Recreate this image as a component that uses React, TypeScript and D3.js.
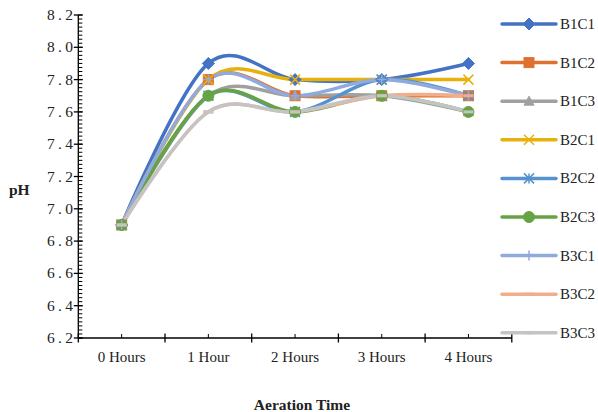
import React from "react";
import * as d3 from "d3";

const categories = ["0 Hours", "1 Hour", "2 Hours", "3 Hours", "4 Hours"];
const seriesNames = ["B1C1", "B1C2", "B1C3", "B2C1", "B2C2", "B2C3", "B3C1", "B3C2", "B3C3"];
const B1C1 = [6.9, 7.9, 7.8, 7.8, 7.9];
const B1C2 = [6.9, 7.8, 7.7, 7.7, 7.7];
const B1C3 = [6.9, 7.7, 7.7, 7.7, 7.6];
const B2C1 = [6.9, 7.8, 7.8, 7.8, 7.8];
const B2C2 = [6.9, 7.7, 7.6, 7.8, 7.7];
const B2C3 = [6.9, 7.7, 7.6, 7.7, 7.6];
const B3C1 = [6.9, 7.8, 7.7, 7.8, 7.7];
const B3C2 = [6.9, 7.6, 7.6, 7.7, 7.7];
const B3C3 = [6.9, 7.6, 7.6, 7.7, 7.6];
const seriesValues = [B1C1, B1C2, B1C3, B2C1, B2C2, B2C3, B3C1, B3C2, B3C3];
const yTicks = [6.2, 6.4, 6.6, 6.8, 7.0, 7.2, 7.4, 7.6, 7.8, 8.0, 8.2];

const colors = ["#4472C4", "#E07030", "#A0A0A0", "#E8B00A", "#5592CF", "#65A343", "#8FAADC", "#F2AD8A", "#C4C4C4"];
const markers = ["diamond", "square", "triangle", "x", "star", "circle", "plus", "dash", "dash"];

const FONT = "'Liberation Serif', 'Times New Roman', serif";

function Marker({ type, x, y, color }: { type: string; x: number; y: number; color: string }) {
  const s = 5;
  switch (type) {
    case "diamond":
      return <path d={`M${x},${y - s - 1}L${x + s + 1},${y}L${x},${y + s + 1}L${x - s - 1},${y}Z`} fill={color} stroke={color} strokeWidth={1} />;
    case "square":
      return <rect x={x - s} y={y - s} width={2 * s} height={2 * s} fill={color} stroke={color} strokeWidth={1} />;
    case "triangle":
      return <path d={`M${x},${y - s}L${x + s},${y + s - 1}L${x - s},${y + s - 1}Z`} fill={color} stroke={color} strokeWidth={1} />;
    case "x":
      return <path d={`M${x - s},${y - s}L${x + s},${y + s}M${x + s},${y - s}L${x - s},${y + s}`} stroke={color} strokeWidth={1.5} fill="none" />;
    case "star":
      return <path d={`M${x - s},${y - s}L${x + s},${y + s}M${x + s},${y - s}L${x - s},${y + s}M${x},${y - s}L${x},${y + s}`} stroke={color} strokeWidth={1.5} fill="none" />;
    case "circle":
      return <circle cx={x} cy={y} r={s + 0.5} fill={color} stroke={color} strokeWidth={1} />;
    case "plus":
      return <path d={`M${x - s},${y}L${x + s},${y}M${x},${y - s}L${x},${y + s}`} stroke={color} strokeWidth={1.5} fill="none" />;
    case "dash":
      return <path d={`M${x - s},${y}L${x + s},${y}`} stroke={color} strokeWidth={3} fill="none" />;
    default:
      return null;
  }
}

export default function App() {
  const W = 598, H = 412;
  const x0 = 78.3, x1 = 511.8, yTop = 15, yBot = 338;
  const x = d3.scaleBand<string>().domain(categories).range([x0, x1]);
  const y = d3.scaleLinear().domain([6.2, 8.2]).range([yBot, yTop]);
  const cx = (c: string) => (x(c) as number) + x.bandwidth() / 2;
  const line = d3
    .line<number>()
    .x((_, i) => cx(categories[i]))
    .y((d) => y(d))
    .curve(d3.curveCardinal.tension(0));

  const minorTicks = d3.range(0, 81).map((i) => 6.2 + i * 0.025);

  return (
    <svg width={W} height={H} style={{ position: "absolute", left: 0, top: 0, background: "#fff" }} fontFamily={FONT}>
      <rect width={W} height={H} fill="#fff" />
      {seriesValues.map((vals, si) => (
        <path key={"l" + si} d={line(vals) || ""} fill="none" stroke={colors[si]} strokeWidth={3.5} strokeLinecap="round" strokeLinejoin="round" />
      ))}
      {seriesValues.map((vals, si) =>
        vals.map((v, i) => <Marker key={"m" + si + "-" + i} type={markers[si]} x={cx(categories[i])} y={y(v)} color={colors[si]} />)
      )}
      <line x1={x0} x2={x0} y1={yTop} y2={yBot} stroke="#000" strokeWidth={1.3} />
      {minorTicks.map((t, i) => (
        <line key={"mt" + i} x1={x0} x2={x0 + 4} y1={y(t)} y2={y(t)} stroke="#000" strokeWidth={1} />
      ))}
      {yTicks.map((t) => (
        <g key={"yt" + t}>
          <line x1={x0 - 4.5} x2={x0 + 4.5} y1={y(t)} y2={y(t)} stroke="#000" strokeWidth={1.3} />
          <text x={73} y={y(t) + 5} textAnchor="end" fontSize={15.5} fill="#222" textLength={26} lengthAdjust="spacing">
            {t.toFixed(1)}
          </text>
        </g>
      ))}
      <line x1={x0} x2={x1} y1={yBot} y2={yBot} stroke="#000" strokeWidth={1.3} />
      {d3.range(0, categories.length + 1).map((i) => {
        const px = x0 + i * x.bandwidth();
        return <line key={"xb" + i} x1={px} x2={px} y1={yBot - 4.5} y2={yBot + 4.5} stroke="#000" strokeWidth={1.3} />;
      })}
      {categories.map((c) => (
        <g key={"xc" + c}>
          <line x1={cx(c)} x2={cx(c)} y1={yBot - 4} y2={yBot} stroke="#000" strokeWidth={1} />
          <text x={cx(c)} y={362} textAnchor="middle" fontSize={15} fill="#222">
            {c}
          </text>
        </g>
      ))}
      <text x={302} y={410} textAnchor="middle" fontSize={15.5} fontWeight="bold" fill="#222">
        Aeration Time
      </text>
      <text x={9} y={195} fontSize={15.5} fontWeight="bold" fill="#222">
        pH
      </text>
      {seriesNames.map((n, si) => {
        const ly = 24 + si * 38.6;
        return (
          <g key={"lg" + n}>
            <line x1={502} x2={556} y1={ly} y2={ly} stroke={colors[si]} strokeWidth={3.5} strokeLinecap="round" />
            <Marker type={markers[si]} x={529} y={ly} color={colors[si]} />
            <text x={560} y={ly + 5} fontSize={15} fill="#222">
              {n}
            </text>
          </g>
        );
      })}
    </svg>
  );
}
